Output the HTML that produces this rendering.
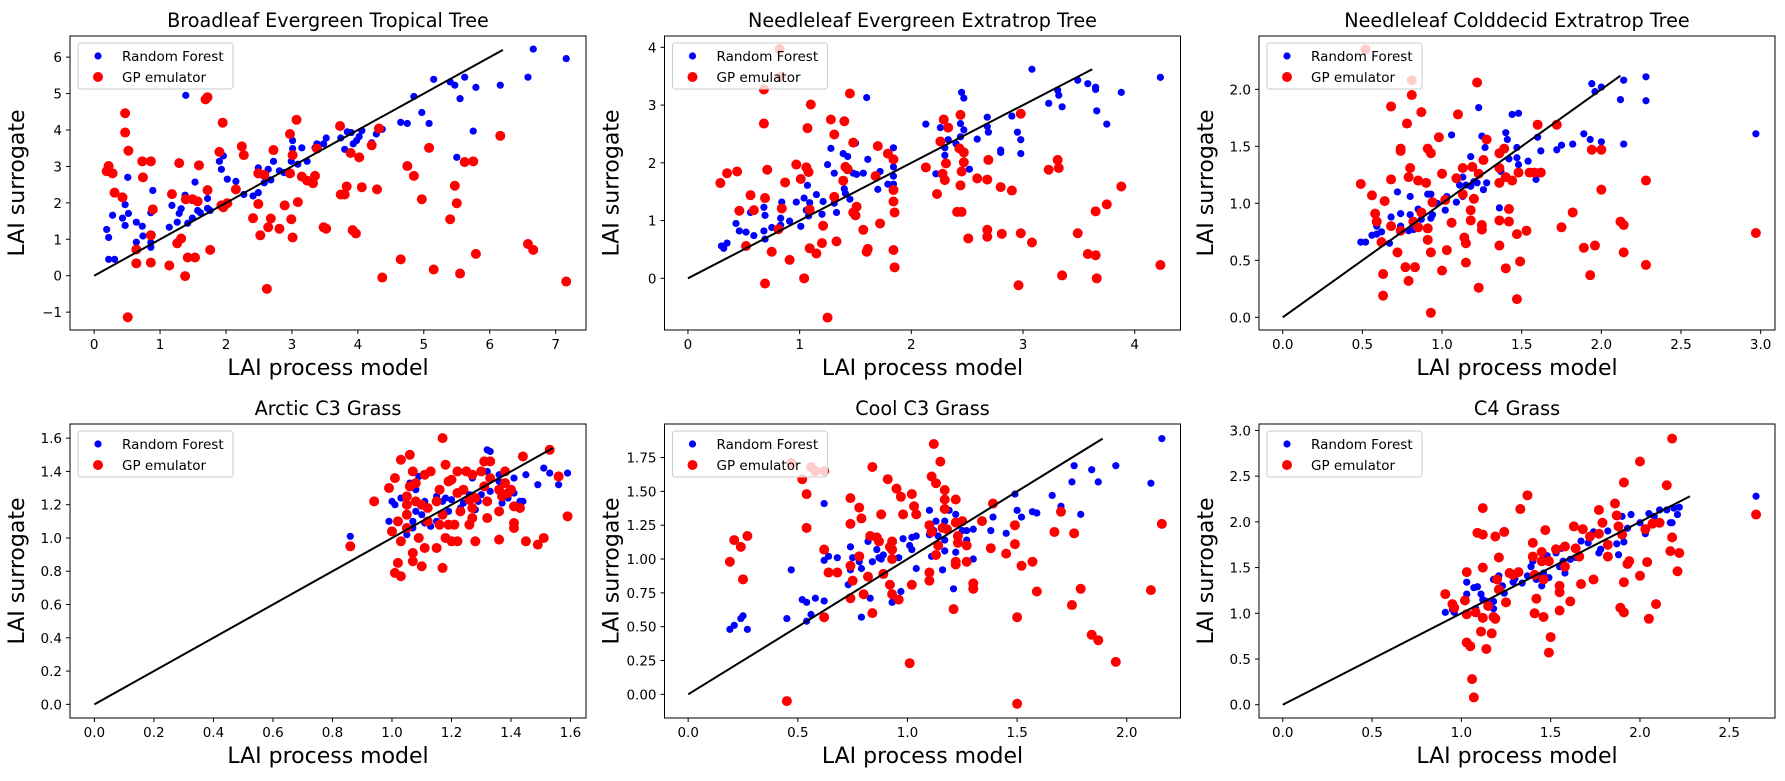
<!DOCTYPE html>
<html><head><meta charset="utf-8">
<style>
html,body{margin:0;padding:0;background:#fff;}
svg{display:block;font-family:"DejaVu Sans","Liberation Sans",sans-serif;}
</style></head>
<body>
<svg id="fig" width="1785" height="781" viewBox="0 0 1785 781" xmlns="http://www.w3.org/2000/svg"></svg>
<script>
const titles = ["Broadleaf Evergreen Tropical Tree","Needleleaf Evergreen Extratrop Tree","Needleleaf Colddecid Extratrop Tree","Arctic C3 Grass","Cool C3 Grass","C4 Grass"];
const xTicks = [[0,1,2,3,4,5,6,7],[0,1,2,3,4],[0,0.5,1,1.5,2,2.5,3],[0,0.2,0.4,0.6,0.8,1.0,1.2,1.4,1.6],[0,0.5,1,1.5,2],[0,0.5,1,1.5,2,2.5]];
const yTicks = [[-1,0,1,2,3,4,5,6],[0,1,2,3,4],[0,0.5,1,1.5,2],[0,0.2,0.4,0.6,0.8,1.0,1.2,1.4,1.6],[0,0.25,0.5,0.75,1,1.25,1.5,1.75],[0,0.5,1,1.5,2,2.5,3]];
const xDecimals = [0,0,1,1,1,1];
const yDecimals = [0,0,1,1,2,1];
const xLims = [[-0.366,7.46],[-0.21,4.41],[-0.149,3.09],[-0.082,1.652],[-0.108,2.245],[-0.133,2.756]];
const yLims = [[-1.49,6.58],[-0.895,4.196],[-0.111,2.468],[-0.082,1.685],[-0.175,1.998],[-0.145,3.07]];
const lineMax = [6.2,3.62,2.12,1.54,1.89,2.28];

const p1Blue=[[0.19,1.27],[0.22,1.05],[0.22,0.45],[0.31,0.45],[0.28,1.66],[0.43,1.58],[0.47,1.95],[0.47,1.38],[0.51,2.7],[0.52,1.71],[0.64,1.47],[0.64,0.92],[0.73,1.36],[0.74,1.09],[0.86,1.73],[0.89,2.34],[0.86,0.78],[0.86,0.91],[1.14,1.33],[1.18,1.93],[1.26,1.47],[1.29,1.71],[1.32,1.84],[1.39,4.95],[1.38,2.21],[1.42,1.44],[1.49,1.58],[1.53,2.57],[1.57,1.79],[1.61,1.73],[1.72,2.12],[1.72,1.85],[1.76,1.79],[1.9,3.14],[1.93,2.92],[1.96,3.29],[2.02,2.65],[2.15,2.59],[2.27,2.23],[2.41,2.19],[2.49,2.28],[2.49,2.96],[2.58,2.55],[2.64,2.92],[2.68,2.63],[2.72,3.14],[2.81,2.88],[2.88,2.83],[2.99,3.14],[3.01,3.71],[3.01,3.49],[3.09,3.06],[3.15,3.51],[3.23,3.14],[3.35,3.51],[3.38,3.62],[3.48,3.62],[3.52,3.78],[3.74,3.78],[3.8,3.47],[3.84,3.95],[3.9,3.93],[3.93,3.62],[3.98,3.71],[4.02,3.82],[4.06,3.98],[4.21,3.65],[4.28,3.89],[4.37,4.02],[4.65,4.21],[4.75,4.18],[4.85,4.92],[4.97,4.48],[5.08,4.18],[5.15,5.39],[5.4,5.32],[5.47,5.23],[5.5,3.25],[5.55,4.86],[5.62,5.45],[5.75,3.97],[5.79,5.17],[6.16,5.23],[6.58,5.45],[6.66,6.22],[7.16,5.96]];
const p1Red=[[0.19,2.87],[0.22,3.01],[0.28,2.81],[0.31,2.28],[0.43,2.15],[0.47,4.46],[0.47,3.93],[0.52,3.43],[0.51,-1.14],[0.64,0.72],[0.64,0.34],[0.73,3.14],[0.74,2.7],[0.86,3.14],[0.86,1.11],[0.89,1.82],[0.86,0.36],[1.14,0.28],[1.18,2.24],[1.26,0.89],[1.29,3.09],[1.32,1.02],[1.38,-0.01],[1.39,2.1],[1.42,0.5],[1.49,2.1],[1.53,0.5],[1.57,2.04],[1.59,3.03],[1.69,4.84],[1.72,4.9],[1.72,2.35],[1.76,0.71],[1.9,3.4],[1.95,4.2],[1.93,1.93],[1.96,1.88],[2.02,1.99],[2.15,2.37],[2.24,3.55],[2.27,3.31],[2.41,1.58],[2.49,2.81],[2.49,1.97],[2.52,1.11],[2.58,2.77],[2.62,-0.36],[2.64,1.33],[2.68,1.57],[2.72,3.45],[2.81,1.29],[2.89,1.93],[2.97,2.81],[2.97,3.89],[2.99,1.55],[3.01,1.05],[3.01,3.31],[3.07,4.28],[3.09,2.02],[3.15,2.72],[3.23,2.61],[3.32,2.54],[3.35,2.74],[3.38,3.49],[3.48,1.33],[3.52,1.29],[3.73,4.11],[3.74,2.23],[3.8,2.23],[3.83,2.45],[3.89,3.37],[3.92,1.25],[3.97,1.16],[4.02,3.25],[4.06,2.43],[4.21,3.58],[4.29,2.37],[4.32,4.04],[4.37,-0.05],[4.65,0.45],[4.75,3.01],[4.85,2.74],[4.97,2.1],[5.08,3.51],[5.15,0.17],[5.4,1.55],[5.47,2.47],[5.5,1.99],[5.55,0.06],[5.62,3.12],[5.75,3.14],[5.79,0.6],[6.16,3.84],[6.58,0.87],[6.66,0.71],[7.16,-0.16]];

const p2Blue=[[0.3,0.56],[0.32,0.52],[0.35,0.61],[0.43,0.95],[0.46,0.82],[0.52,0.8],[0.56,1.14],[0.59,0.74],[0.68,1.23],[0.69,1.09],[0.68,0.82],[0.69,0.68],[0.75,0.88],[0.83,1.04],[0.84,1.32],[0.83,0.92],[0.91,0.99],[0.97,1.32],[1.01,0.9],[1.04,1.39],[1.06,1.18],[1.07,1.61],[1.09,1.31],[1.08,1.08],[1.15,1.45],[1.2,1.11],[1.21,1.33],[1.25,1.97],[1.28,2.25],[1.31,1.82],[1.31,1.3],[1.33,1.14],[1.39,2.16],[1.43,2.11],[1.4,1.55],[1.41,1.47],[1.45,1.37],[1.5,2.34],[1.48,1.82],[1.51,1.8],[1.57,1.82],[1.6,3.13],[1.61,2.06],[1.7,1.54],[1.72,1.85],[1.79,1.63],[1.84,2.26],[1.84,1.93],[1.84,1.77],[1.84,1.63],[2.13,2.67],[2.26,2.61],[2.22,1.81],[2.3,2.26],[2.3,2.13],[2.33,2.4],[2.4,2.33],[2.45,3.22],[2.47,3.12],[2.44,2.68],[2.47,2.57],[2.44,2.45],[2.52,1.89],[2.59,2.41],[2.68,2.79],[2.68,2.63],[2.69,2.53],[2.8,2.22],[2.8,2.18],[2.9,2.81],[2.95,2.53],[2.98,2.4],[2.98,2.16],[3.08,3.62],[3.23,3.03],[3.31,3.26],[3.32,3.17],[3.35,2.97],[3.49,3.43],[3.58,3.37],[3.65,3.31],[3.65,3.27],[3.66,2.9],[3.75,2.67],[3.88,3.22],[4.23,3.48]];
const p2Red=[[0.29,1.65],[0.35,1.82],[0.44,1.85],[0.46,1.17],[0.56,1.44],[0.59,1.18],[0.52,0.56],[0.68,3.27],[0.68,2.68],[0.69,1.39],[0.71,1.88],[0.69,-0.09],[0.75,0.46],[0.82,3.97],[0.83,3.49],[0.84,1.21],[0.81,0.85],[0.87,1.66],[0.91,0.32],[0.97,1.97],[1.01,1.72],[1.04,0],[1.06,1.92],[1.08,1.84],[1.07,2.6],[1.1,3.01],[1.09,1.19],[1.09,0.52],[1.15,0.43],[1.2,0.61],[1.21,0.91],[1.25,-0.68],[1.28,2.75],[1.31,2.49],[1.31,1.41],[1.33,0.64],[1.39,1.69],[1.4,2.72],[1.41,1.93],[1.43,1.89],[1.45,3.2],[1.48,2.35],[1.48,1.14],[1.5,1.09],[1.51,1.24],[1.57,0.84],[1.6,0.46],[1.61,0.51],[1.68,1.77],[1.7,2.29],[1.72,0.95],[1.79,2.16],[1.84,2.06],[1.84,1.53],[1.84,1.33],[1.85,1.14],[1.84,0.49],[1.85,0.19],[2.13,1.92],[2.23,1.46],[2.26,2.37],[2.29,2.75],[2.33,2.61],[2.28,1.81],[2.3,1.7],[2.31,1.99],[2.41,1.15],[2.45,1.15],[2.44,2.83],[2.43,2.25],[2.47,2.18],[2.47,2.01],[2.45,1.85],[2.44,1.61],[2.51,0.69],[2.59,1.73],[2.68,1.71],[2.69,2.05],[2.68,0.84],[2.68,0.72],[2.8,1.58],[2.81,0.77],[2.9,1.52],[2.98,2.85],[2.98,0.78],[2.96,-0.12],[3.08,0.62],[3.23,1.88],[3.31,2.05],[3.32,1.91],[3.35,0.05],[3.49,0.78],[3.58,0.42],[3.65,0.4],[3.65,1.16],[3.66,0],[3.75,1.28],[3.88,1.59],[4.23,0.23]];

const p3Blue=[[0.49,0.66],[0.52,0.66],[0.56,0.72],[0.59,0.8],[0.59,0.73],[0.62,0.75],[0.67,0.65],[0.68,0.88],[0.72,1.1],[0.74,0.91],[0.74,0.8],[0.8,1.06],[0.8,0.9],[0.79,0.76],[0.82,0.77],[0.85,0.95],[0.87,0.86],[0.91,1.08],[0.93,1.08],[0.93,0.87],[0.94,0.9],[0.97,1.0],[1.02,0.94],[1.03,1.06],[1.06,1.6],[1.09,1.01],[1.11,1.16],[1.13,1.23],[1.13,1.06],[1.15,1.16],[1.18,1.15],[1.18,1.41],[1.2,1.19],[1.22,1.18],[1.23,1.84],[1.25,1.59],[1.27,1.49],[1.26,1.12],[1.28,1.18],[1.36,0.96],[1.37,1.28],[1.4,1.62],[1.41,1.56],[1.42,1.39],[1.44,1.78],[1.48,1.79],[1.47,1.4],[1.47,1.49],[1.48,1.34],[1.54,1.37],[1.6,1.58],[1.59,1.21],[1.62,1.46],[1.72,1.47],[1.75,1.51],[1.82,1.52],[1.89,1.61],[1.93,1.56],[1.94,2.05],[1.96,1.98],[2.0,2.02],[2.0,1.54],[2.12,1.91],[2.14,2.08],[2.14,1.52],[2.28,2.11],[2.28,1.9],[2.97,1.61]];
const p3Red=[[0.52,2.35],[0.49,1.17],[0.56,1.07],[0.58,0.91],[0.59,0.84],[0.62,0.66],[0.63,0.38],[0.63,0.19],[0.64,1.02],[0.68,1.85],[0.68,1.21],[0.68,0.8],[0.72,0.57],[0.74,0.76],[0.74,1.48],[0.74,1.46],[0.77,0.44],[0.78,1.7],[0.79,0.32],[0.79,1.23],[0.8,1.31],[0.81,2.08],[0.81,1.95],[0.82,0.84],[0.83,0.44],[0.85,1.2],[0.85,0.79],[0.87,1.8],[0.87,0.92],[0.9,1.18],[0.91,0.78],[0.91,0.68],[0.91,1.48],[0.93,1.44],[0.93,0.04],[0.93,0.57],[0.94,1.01],[0.98,1.58],[1.0,1.26],[1.0,0.41],[1.02,1.03],[1.03,0.59],[1.06,0.83],[1.09,1.22],[1.1,1.78],[1.13,1.31],[1.13,1.08],[1.14,0.7],[1.15,0.65],[1.15,0.48],[1.18,0.94],[1.18,0.85],[1.19,1.32],[1.2,1.04],[1.22,2.06],[1.23,0.26],[1.23,1.26],[1.25,0.81],[1.25,0.77],[1.26,1.38],[1.28,1.56],[1.36,1.31],[1.36,1.44],[1.36,1.18],[1.36,0.85],[1.36,0.63],[1.39,1.48],[1.4,1.23],[1.4,0.43],[1.42,0.95],[1.42,0.84],[1.44,1.2],[1.47,0.73],[1.47,0.16],[1.48,1.27],[1.49,0.49],[1.53,0.76],[1.55,1.27],[1.58,1.27],[1.6,1.69],[1.62,1.27],[1.72,1.69],[1.75,0.79],[1.82,0.92],[1.89,0.61],[1.93,0.37],[1.94,1.47],[1.96,0.63],[2.0,1.47],[2.0,1.12],[2.12,0.84],[2.14,0.81],[2.14,0.57],[2.28,1.2],[2.28,0.46],[2.97,0.74]];

const p4Blue=[[0.86,1.01],[0.99,1.1],[1.0,1.22],[1.01,1.2],[1.03,1.24],[1.02,1.1],[1.05,1.02],[1.06,1.33],[1.07,1.1],[1.07,1.06],[1.08,1.29],[1.08,1.16],[1.09,1.37],[1.1,1.14],[1.11,1.22],[1.11,1.09],[1.13,1.07],[1.15,1.25],[1.15,1.1],[1.17,1.22],[1.18,1.24],[1.19,1.16],[1.2,1.23],[1.21,1.08],[1.23,1.18],[1.24,1.21],[1.26,1.26],[1.27,1.36],[1.28,1.17],[1.29,1.22],[1.3,1.26],[1.32,1.53],[1.33,1.52],[1.33,1.28],[1.32,1.4],[1.36,1.38],[1.36,1.34],[1.37,1.21],[1.39,1.24],[1.41,1.36],[1.41,1.27],[1.43,1.22],[1.44,1.22],[1.45,1.38],[1.49,1.32],[1.51,1.42],[1.53,1.39],[1.56,1.32],[1.59,1.39]];
const p4Red=[[0.86,0.95],[0.94,1.22],[0.99,1.3],[1.0,1.04],[1.01,1.36],[1.02,0.85],[1.01,0.79],[1.03,0.77],[1.02,1.1],[1.03,0.98],[1.03,1.47],[1.05,1.25],[1.05,1.14],[1.05,1.2],[1.05,1.06],[1.06,1.31],[1.06,1.5],[1.07,1.4],[1.07,0.91],[1.07,0.86],[1.08,1.33],[1.08,1.22],[1.09,1.0],[1.1,1.2],[1.1,0.83],[1.11,0.94],[1.11,1.38],[1.12,1.1],[1.12,1.18],[1.13,1.4],[1.15,0.94],[1.15,1.22],[1.16,1.29],[1.16,1.08],[1.17,1.6],[1.17,1.14],[1.17,0.82],[1.18,1.0],[1.18,1.44],[1.19,1.34],[1.19,1.08],[1.2,1.35],[1.2,0.98],[1.21,1.08],[1.22,1.27],[1.22,0.98],[1.22,1.4],[1.23,1.16],[1.24,1.29],[1.25,1.4],[1.26,1.23],[1.26,1.08],[1.27,1.18],[1.27,1.38],[1.27,1.12],[1.28,0.98],[1.28,1.24],[1.31,1.46],[1.3,1.4],[1.31,1.31],[1.32,1.22],[1.32,1.12],[1.33,1.36],[1.33,1.46],[1.36,1.29],[1.36,1.16],[1.36,0.99],[1.37,1.25],[1.38,1.33],[1.38,1.4],[1.39,1.27],[1.4,1.29],[1.41,1.09],[1.41,1.19],[1.41,1.06],[1.43,1.18],[1.44,1.49],[1.45,0.98],[1.49,0.96],[1.51,1.0],[1.53,1.53],[1.56,1.37],[1.59,1.13]];

const p5Blue=[[0.19,0.48],[0.21,0.51],[0.24,0.56],[0.25,0.58],[0.27,0.48],[0.45,0.56],[0.47,0.92],[0.52,0.7],[0.54,0.68],[0.54,0.54],[0.56,0.59],[0.58,0.71],[0.62,0.69],[0.62,1.41],[0.62,0.99],[0.64,1.02],[0.68,1.01],[0.74,1.09],[0.74,0.92],[0.73,0.81],[0.75,1.01],[0.78,0.98],[0.79,0.57],[0.79,0.93],[0.82,1.13],[0.83,0.71],[0.84,0.98],[0.86,1.07],[0.87,1.01],[0.88,1.0],[0.89,1.03],[0.93,1.01],[0.93,0.68],[0.96,1.01],[0.97,0.76],[0.98,1.15],[1.01,1.1],[1.02,1.07],[1.02,1.16],[1.04,1.17],[1.04,0.93],[1.1,1.36],[1.1,1.18],[1.11,1.02],[1.12,1.21],[1.13,1.28],[1.14,1.17],[1.16,0.92],[1.17,1.06],[1.17,1.28],[1.17,1.14],[1.19,1.36],[1.21,0.78],[1.22,1.05],[1.22,1.33],[1.25,1.21],[1.27,1.14],[1.27,1.21],[1.3,1.0],[1.3,1.22],[1.38,1.21],[1.39,1.31],[1.45,1.19],[1.49,1.48],[1.5,1.36],[1.52,1.31],[1.57,1.35],[1.59,1.34],[1.66,1.47],[1.7,1.39],[1.76,1.69],[1.75,1.57],[1.79,1.33],[1.84,1.66],[1.87,1.57],[1.95,1.69],[2.11,1.56],[2.16,1.89]];
const p5Red=[[0.19,0.98],[0.21,1.14],[0.24,1.09],[0.25,0.85],[0.27,1.17],[0.45,-0.05],[0.47,1.71],[0.52,1.59],[0.54,1.48],[0.54,1.23],[0.56,1.68],[0.58,1.65],[0.62,1.65],[0.62,1.07],[0.62,0.57],[0.64,0.9],[0.68,0.9],[0.74,1.45],[0.74,1.26],[0.74,0.95],[0.74,0.71],[0.75,0.84],[0.78,1.38],[0.78,1.02],[0.79,1.3],[0.8,0.74],[0.82,0.87],[0.83,1.17],[0.84,1.68],[0.84,0.6],[0.86,1.16],[0.87,1.13],[0.88,1.33],[0.89,0.89],[0.91,1.59],[0.92,1.09],[0.93,1.13],[0.92,0.81],[0.93,0.74],[0.93,1.07],[0.93,1.0],[0.95,1.52],[0.96,0.7],[0.97,1.46],[0.98,1.33],[1.01,0.23],[1.02,1.48],[1.02,0.81],[1.03,1.39],[1.04,1.33],[1.1,0.9],[1.1,0.84],[1.1,1.25],[1.11,1.61],[1.11,1.2],[1.12,1.85],[1.13,1.56],[1.13,1.03],[1.14,1.1],[1.15,1.72],[1.16,1.23],[1.17,1.44],[1.17,1.51],[1.17,1.37],[1.18,1.22],[1.21,0.63],[1.22,0.98],[1.22,0.96],[1.22,1.44],[1.22,1.27],[1.23,1.17],[1.23,1.12],[1.25,1.28],[1.27,1.1],[1.27,0.98],[1.3,0.78],[1.3,0.82],[1.34,1.28],[1.38,1.08],[1.39,1.41],[1.45,1.04],[1.49,1.11],[1.49,1.25],[1.5,0.57],[1.5,-0.07],[1.52,0.95],[1.57,0.98],[1.59,0.76],[1.67,1.2],[1.7,1.35],[1.75,0.66],[1.76,1.19],[1.79,0.78],[1.84,0.44],[1.87,0.4],[1.95,0.24],[2.11,0.77],[2.16,1.26]];

const p6Blue=[[0.91,1.01],[0.95,1.04],[0.96,1.01],[1.02,1.15],[1.03,1.21],[1.03,1.34],[1.07,1.28],[1.08,1.05],[1.09,1.29],[1.11,1.21],[1.12,1.15],[1.14,1.13],[1.18,1.13],[1.18,1.05],[1.18,1.37],[1.21,1.41],[1.23,1.3],[1.24,1.22],[1.29,1.34],[1.3,1.38],[1.34,1.33],[1.37,1.41],[1.39,1.51],[1.4,1.57],[1.42,1.37],[1.43,1.41],[1.45,1.3],[1.46,1.44],[1.48,1.63],[1.49,1.39],[1.53,1.66],[1.55,1.51],[1.56,1.71],[1.57,1.57],[1.58,1.44],[1.61,1.59],[1.64,1.61],[1.67,1.79],[1.71,1.77],[1.74,1.89],[1.77,1.66],[1.78,1.7],[1.82,1.9],[1.87,1.76],[1.88,1.64],[1.9,2.06],[1.91,1.78],[1.93,1.93],[1.95,2.08],[2.0,1.99],[2.03,1.87],[2.05,2.09],[2.08,2.06],[2.11,2.13],[2.15,2.13],[2.17,1.99],[2.18,1.99],[2.19,2.15],[2.21,2.08],[2.22,2.16],[2.65,2.28]];
const p6Red=[[0.91,1.21],[0.95,1.1],[0.96,1.06],[1.02,1.14],[1.03,1.45],[1.03,0.68],[1.05,0.64],[1.03,0.99],[1.06,0.28],[1.07,0.08],[1.08,1.01],[1.09,1.88],[1.12,2.15],[1.12,1.86],[1.12,0.95],[1.11,0.8],[1.12,1.5],[1.15,1.08],[1.14,0.61],[1.17,0.78],[1.19,1.84],[1.18,0.96],[1.19,0.94],[1.2,1.37],[1.21,1.61],[1.21,1.26],[1.24,1.89],[1.25,1.12],[1.27,1.44],[1.29,1.42],[1.32,1.45],[1.33,2.14],[1.37,2.29],[1.4,1.77],[1.4,1.62],[1.41,1.42],[1.42,1.16],[1.41,1.0],[1.45,1.67],[1.45,1.57],[1.46,0.96],[1.47,1.91],[1.46,1.37],[1.49,1.57],[1.5,0.74],[1.49,0.57],[1.53,1.7],[1.55,1.3],[1.55,1.23],[1.55,1.03],[1.58,1.73],[1.58,1.51],[1.61,1.13],[1.63,1.95],[1.64,1.71],[1.66,1.62],[1.67,1.32],[1.68,1.92],[1.72,1.84],[1.74,1.37],[1.77,2.13],[1.77,1.87],[1.79,1.99],[1.82,1.62],[1.82,1.75],[1.86,2.2],[1.87,2.07],[1.88,1.95],[1.89,1.06],[1.91,1.01],[1.9,1.86],[1.91,2.43],[1.91,1.34],[1.93,1.54],[1.94,1.57],[2.0,2.66],[2.0,1.41],[2.03,1.92],[2.04,1.56],[2.05,0.94],[2.07,1.98],[2.09,1.1],[2.11,1.99],[2.15,2.4],[2.17,1.68],[2.18,2.91],[2.18,1.83],[2.21,1.46],[2.22,1.66],[2.65,2.08]];

const blueSets = [p1Blue,p2Blue,p3Blue,p4Blue,p5Blue,p6Blue];
const redSets = [p1Red,p2Red,p3Red,p4Red,p5Red,p6Red];

const NS = "http://www.w3.org/2000/svg";
const svg = document.getElementById('fig');
const lefts = [70,664.5,1259];
const tops = [36,424];
const W = 516, H = 294;

function mk(tag, attrs, parent){
  const e = document.createElementNS(NS, tag);
  for (const k in attrs) e.setAttribute(k, attrs[k]);
  (parent||svg).appendChild(e);
  return e;
}

for (let i=0;i<6;i++){
  const L = lefts[i%3], T = tops[Math.floor(i/3)];
  const xl = xLims[i], yl = yLims[i];
  const sx = v => L + (v - xl[0])/(xl[1]-xl[0])*W;
  const sy = v => T + H - (v - yl[0])/(yl[1]-yl[0])*H;
  const g = mk('g', {});
  
  
  const clipId = 'clip'+i;
  const cp = mk('clipPath', {id: clipId}, g);
  mk('rect', {x:L, y:T, width:W, height:H}, cp);

  const title = mk('text', {x:L+W/2, y:T-9, 'text-anchor':'middle', 'font-size':19.2, fill:'#000'}, g);
  title.textContent = titles[i];
  
  

  const xlab = mk('text', {x:L+W/2, y:T+H+45, 'text-anchor':'middle', 'font-size':22, fill:'#000'}, g);
  xlab.textContent = 'LAI process model';
  
  

  const ycx = L-46, ycy = T+H/2;
  const ylab = mk('text', {x:ycx, y:ycy, 'text-anchor':'middle', 'font-size':22, fill:'#000', transform:'rotate(-90 '+ycx+' '+ycy+')'}, g);
  ylab.textContent = 'LAI surrogate';
  
  

  xTicks[i].forEach(t => {
    const x = sx(t);
    const tk = mk('line', {x1:x, x2:x, y1:T+H, y2:T+H+4, stroke:'#000', 'stroke-width':1}, g);
    
    
    const lb = mk('text', {x:x, y:T+H+19, 'text-anchor':'middle', 'font-size':13.5, fill:'#000'}, g);
    lb.textContent = t.toFixed(xDecimals[i]);
    
    
  });
  yTicks[i].forEach(t => {
    const y = sy(t);
    const tk = mk('line', {x1:L-4, x2:L, y1:y, y2:y, stroke:'#000', 'stroke-width':1}, g);
    
    
    const lb = mk('text', {x:L-8, y:y+5, 'text-anchor':'end', 'font-size':13.5, fill:'#000'}, g);
    lb.textContent = (t<0?'\u2212':'') + Math.abs(t).toFixed(yDecimals[i]);
    
    
  });

  const pts = mk('g', {'clip-path':'url(#'+clipId+')'}, g);
  blueSets[i].forEach(p => {
    const c = mk('circle', {cx:sx(p[0]), cy:sy(p[1]), r:3.6, fill:'#0000ff'}, pts);
    
    
  });
  redSets[i].forEach(p => {
    const c = mk('circle', {cx:sx(p[0]), cy:sy(p[1]), r:5, fill:'#ff0000'}, pts);
    
    
  });
  const ln = mk('line', {x1:sx(0), y1:sy(0), x2:sx(lineMax[i]), y2:sy(lineMax[i]), stroke:'#000', 'stroke-width':2}, pts);
  
  

  const frame = mk('rect', {x:L, y:T, width:W, height:H, fill:'none', stroke:'#000', 'stroke-width':1}, g);
  
  

  const lg = mk('g', {}, g);
  
  
  mk('rect', {x:L+8, y:T+7, width:155, height:46, rx:3, fill:'rgba(255,255,255,0.8)', stroke:'#cccccc', 'stroke-width':1}, lg);
  const m1 = mk('circle', {cx:L+28, cy:T+20, r:3.6, fill:'#0000ff'}, lg);
  
  
  const t1 = mk('text', {x:L+52, y:T+25, 'font-size':13.5, fill:'#000'}, lg);
  t1.textContent = 'Random Forest';
  
  
  const m2 = mk('circle', {cx:L+28, cy:T+41, r:5, fill:'#ff0000'}, lg);
  
  
  const t2 = mk('text', {x:L+52, y:T+46, 'font-size':13.5, fill:'#000'}, lg);
  t2.textContent = 'GP emulator';
  
  
}
</script>
</body></html>
